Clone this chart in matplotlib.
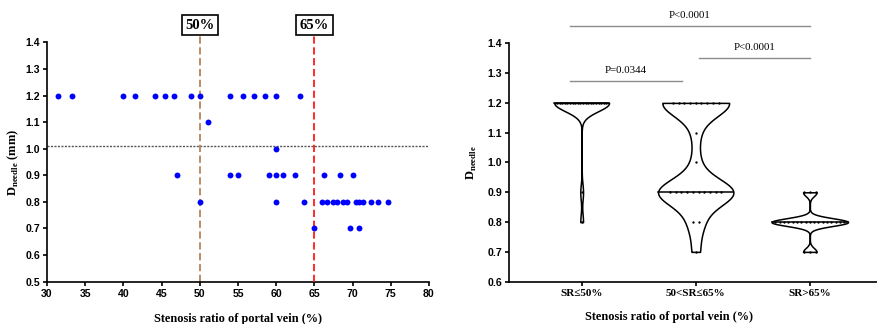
import numpy as np
import matplotlib
matplotlib.use('Agg')
import matplotlib.pyplot as plt

plt.rcParams['mathtext.fontset'] = 'custom'
plt.rcParams['mathtext.rm'] = 'Liberation Serif'
plt.rcParams['mathtext.bf'] = 'Liberation Serif:bold'

SANS = ['Liberation Sans', 'DejaVu Sans']
SERIF = ['Liberation Serif', 'DejaVu Serif']

# left panel: stenosis ratio (%) vs needle diameter (mm)
sr_12 = [31.4, 33.3, 40.0, 41.5, 44.2, 45.4, 46.6, 48.9, 50.0, 53.9, 55.6, 57.1, 58.6, 60.0, 63.1]
sr_11 = [51.1]
sr_10 = [60.0]
sr_09 = [47.0, 53.9, 55.0, 59.1, 60.0, 60.9, 62.5, 66.2, 68.4, 70.0]
sr_08 = [50.0, 60.0, 63.7, 66.0, 66.7, 67.4, 68.0, 68.7, 69.3, 70.4, 70.9, 71.4, 72.4, 73.3, 74.6]
sr_07 = [65.0, 69.6, 70.9]
needle_levels = [1.2, 1.1, 1.0, 0.9, 0.8, 0.7]
cutoff_line = 1.01
thresholds = [50, 65]

# right panel: violin groups (value, count)
groups = ['SR≤50%', '50<SR≤65%', 'SR>65%']
g1_vals, g1_counts = [1.2, 0.9, 0.8], [20, 1, 1]
g2_vals, g2_counts = [1.2, 1.1, 1.0, 0.9, 0.8, 0.7], [9, 1, 1, 10, 2, 1]
g3_vals, g3_counts = [0.9, 0.8, 0.7], [3, 17, 3]
p_labels = ['P=0.0344', 'P<0.0001', 'P<0.0001']
p_pairs = [(0, 1), (1, 2), (0, 2)]

fig = plt.figure(figsize=(8.78, 3.24), dpi=100)
ax1 = fig.add_axes([0.0535, 0.1306, 0.4351, 0.7388])
ax2 = fig.add_axes([0.580, 0.1306, 0.419, 0.7358])

for ax in (ax1, ax2):
    for s in ('top', 'right'):
        ax.spines[s].set_visible(False)
    for s in ('left', 'bottom'):
        ax.spines[s].set_linewidth(1.2)
    ax.tick_params(direction='out', length=3, width=1.2, pad=2)

# ---- left scatter
all_sr = [sr_12, sr_11, sr_10, sr_09, sr_08, sr_07]
for xs, lev in zip(all_sr, needle_levels):
    ax1.scatter(xs, [lev] * len(xs), s=18, color='#0000ff', zorder=4, linewidths=0)

ax1.axhline(cutoff_line, color='#555555', ls=(0, (1.5, 1)), lw=1.0, zorder=1)
ax1.axvline(thresholds[0], ymin=0, ymax=1.026, clip_on=False, color='#b5835a', ls=(0, (4, 2)), lw=1.3, zorder=2)
ax1.axvline(thresholds[1], ymin=0, ymax=1.026, clip_on=False, color='#ff1a1a', ls=(0, (4, 2)), lw=1.3, zorder=3)
for t in thresholds:
    ax1.text(t, 1.465, '%d%%' % t, ha='center', va='center', fontsize=10.5, fontweight='bold',
             family=SERIF, clip_on=False,
             bbox=dict(boxstyle='square,pad=0.25', facecolor='white', edgecolor='black', lw=1.2))

ax1.set_xlim(30, 80)
ax1.set_ylim(0.5, 1.4)
ax1.set_xticks(np.arange(30, 81, 5))
ax1.set_yticks(np.arange(0.5, 1.41, 0.1))
ax1.set_yticklabels(['%.1f' % v for v in np.arange(0.5, 1.41, 0.1)])
for lab in ax1.get_xticklabels() + ax1.get_yticklabels():
    lab.set_fontfamily(SANS)
    lab.set_fontweight('bold')
    lab.set_fontsize(7.6)
ax1.set_xlabel('Stenosis ratio of portal vein (%)', fontsize=8.8, fontweight='bold', family=SERIF, labelpad=10)
ax1.set_ylabel(r'$\mathbf{D}_{\mathbf{needle}}$ (mm)', fontsize=9, fontweight='bold', family=SERIF, labelpad=3)

# ---- right violins
widths = [0.48, 0.66, 0.67]
bws = [0.028, 0.045, 0.013]
vdata = [(g1_vals, g1_counts), (g2_vals, g2_counts), (g3_vals, g3_counts)]
for i, (vals, cnts) in enumerate(vdata):
    data = np.repeat(vals, cnts)
    ys = np.linspace(data.min(), data.max(), 400)
    dens = np.exp(-0.5 * ((ys[:, None] - data[None, :]) / bws[i]) ** 2).sum(1)
    hw = dens / dens.max() * widths[i] / 2
    ax2.fill_betweenx(ys, i - hw, i + hw, facecolor='white', edgecolor='black', lw=1.1, zorder=2)
    med = np.median(data)
    hm = np.interp(med, ys, hw)
    ax2.plot([i - hm, i + hm], [med, med], color='black', lw=1.1, zorder=3)
    for v, n in zip(vals, cnts):
        h = np.interp(v, ys, hw)
        half = min(h * 0.9, (n - 1) / 2 * 0.05)
        xs = np.linspace(i - half, i + half, n) if n > 1 else [i]
        ax2.plot(xs, [v] * n, 'o', ms=1.7, color='black', mew=0, zorder=4)

bar_y = [1.2745, 1.35, 1.458]
for (a, b), lab, yb in zip(p_pairs, p_labels, bar_y):
    x0, x1 = a - 0.1, b
    if b == 1:
        x1 = 0.88
    if a == 1:
        x0 = 1.03
    ax2.plot([x0, x1], [yb, yb], color='#8c8c8c', lw=1.0, clip_on=False)
    ax2.text((x0 + x1) / 2, yb + 0.02, lab, ha='center', va='bottom', fontsize=7.8, family=SERIF, clip_on=False)

ax2.set_xlim(-0.635, 2.59)
ax2.set_ylim(0.6, 1.4)
ax2.set_xticks(range(len(groups)))
ax2.set_xticklabels(groups, fontsize=8, fontweight='bold', family=SERIF)
ax2.set_yticks(np.arange(0.6, 1.41, 0.1))
ax2.set_yticklabels(['%.1f' % v for v in np.arange(0.6, 1.41, 0.1)])
for lab in ax2.get_yticklabels():
    lab.set_fontfamily(SANS)
    lab.set_fontweight('bold')
    lab.set_fontsize(7.6)
ax2.set_xlabel('Stenosis ratio of portal vein (%)', fontsize=8.8, fontweight='bold', family=SERIF)
ax2.xaxis.set_label_coords(0.434, -0.125)
ax2.set_ylabel(r'$\mathbf{D}_{\mathbf{needle}}$', fontsize=9, fontweight='bold', family=SERIF, labelpad=6)

fig.savefig('out.png', dpi=100)
